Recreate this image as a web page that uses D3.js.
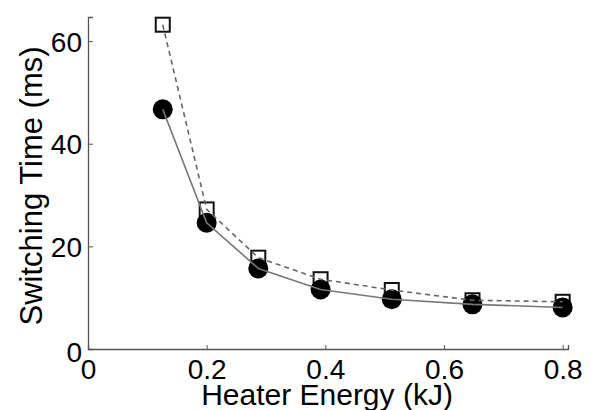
<!DOCTYPE html>
<html>
<head>
<meta charset="utf-8">
<script src="https://cdn.jsdelivr.net/npm/d3@7"></script>
<style>
  body { margin: 0; background: #fff; }
  text { font-family: "Liberation Sans", Arial, sans-serif; }
</style>
</head>
<body>
<svg id="chart" width="592" height="410"></svg>
<script>
// heater energy (kJ)
const energy = [0.126, 0.2, 0.287, 0.392, 0.512, 0.648, 0.80]
// switching time (ms), filled circles / open squares
const timeCircle = [46.7, 24.6, 15.7, 11.6, 9.7, 8.7, 8.1]
const timeSquare = [63.2, 27.2, 17.8, 13.6, 11.5, 9.5, 9.2]
const xTicks = [0, 0.2, 0.4, 0.6, 0.8]
const yTicks = [0, 20, 40, 60]

const svg = d3.select('#chart')

const xScale = d3.scaleLinear().domain([0, 0.809]).range([88, 568])
const yScale = d3.scaleLinear().domain([0, 64.7]).range([349, 17])

// axes (ticks point inward)
const xAxis = d3.axisBottom(xScale).tickValues(xTicks).tickSize(-4)
  .tickFormat(d => d === 0 ? '0' : d3.format('.1f')(d))
const yAxis = d3.axisLeft(yScale).tickValues(yTicks).tickSize(-5)

const gx = svg.append('g').attr('transform', 'translate(0,349)').call(xAxis)
const gy = svg.append('g').attr('transform', 'translate(88,0)').call(yAxis)

;[gx, gy].forEach(g => {
  g.select('.domain').attr('stroke', '#555').attr('stroke-width', 1.3)
  g.selectAll('.tick line').attr('stroke', '#555').attr('stroke-width', 1)
  g.selectAll('.tick text').attr('fill', '#000').style('font-size', '28px')
    .style('font-family', '"Liberation Sans", Arial, sans-serif')
})
gx.selectAll('.tick text').attr('y', 30).attr('dy', 0)
gy.selectAll('.tick text').attr('x', -6).attr('dy', '0.36em')
gy.selectAll('.tick').filter(d => d === 0).select('text').attr('dy', '0.46em')

// markers
svg.selectAll('rect.sq').data(energy).enter().append('rect')
  .attr('class', 'sq')
  .attr('x', (d, i) => xScale(d) - 7)
  .attr('y', (d, i) => yScale(timeSquare[i]) - 7)
  .attr('width', 14).attr('height', 14)
  .attr('fill', '#fff').attr('stroke', '#111').attr('stroke-width', 2)

svg.selectAll('circle.ci').data(energy).enter().append('circle')
  .attr('class', 'ci')
  .attr('cx', (d, i) => xScale(d))
  .attr('cy', (d, i) => yScale(timeCircle[i]))
  .attr('r', 10)
  .attr('fill', '#000')

// lines on top
const lineSq = d3.line().x((d, i) => xScale(energy[i])).y(d => yScale(d))
svg.append('path').datum(timeSquare).attr('fill', 'none')
  .attr('d', lineSq).attr('stroke', '#666').attr('stroke-width', 1.6)
  .attr('stroke-dasharray', '5,4')
svg.append('path').datum(timeCircle).attr('fill', 'none')
  .attr('d', lineSq).attr('stroke', '#777').attr('stroke-width', 1.6)

// axis labels
svg.append('text').attr('x', 327).attr('y', 405).attr('text-anchor', 'middle')
  .style('font-size', '30px').text('Heater Energy (kJ)')
svg.append('text').attr('transform', 'translate(42,186) rotate(-90)')
  .attr('text-anchor', 'middle').style('font-size', '31px').text('Switching Time (ms)')
</script>
</body>
</html>
